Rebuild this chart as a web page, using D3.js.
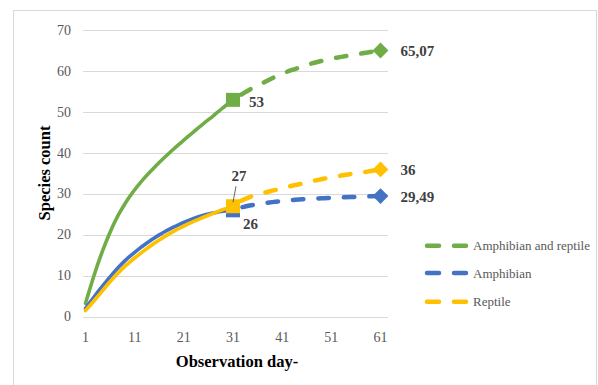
<!DOCTYPE html>
<html>
<head>
<meta charset="utf-8">
<script src="https://cdn.jsdelivr.net/npm/d3@7"></script>
<style>
  html, body { margin: 0; padding: 0; background: #fff; }
  text { font-family: "Liberation Serif", "Times New Roman", Tinos, "DejaVu Serif", serif; }
</style>
</head>
<body>
<svg id="chart" width="598" height="385"></svg>
<script>
// ---- Data ----
const seriesNames = ["Amphibian and reptile", "Amphibian", "Reptile"];
const seriesColors = ["#70AD47", "#4472C4", "#FFC000"];

const observedDays = d3.range(1, 32); // 1..31
const observedBoth = [3.3, 7.3, 11.1, 14.6, 17.8, 20.7, 23.3, 25.6, 27.6, 29.4,
  31.05, 32.55, 33.95, 35.25, 36.5, 37.7, 38.85, 39.95, 41.05, 42.1,
  43.15, 44.2, 45.2, 46.2, 47.2, 48.15, 49.1, 50.1, 51.1, 52.05, 53.0];
const observedAmphibian = [2.0, 3.65, 5.25, 6.8, 8.3, 9.75, 11.15, 12.45, 13.65, 14.75,
  15.75, 16.7, 17.6, 18.45, 19.25, 20.0, 20.7, 21.35, 21.95, 22.52,
  23.06, 23.56, 24.03, 24.46, 24.8, 25.1, 25.35, 25.6, 25.8, 25.93, 26.0];
const observedReptile = [1.5, 2.85, 4.25, 5.7, 7.15, 8.55, 9.9, 11.15, 12.3, 13.35,
  14.35, 15.3, 16.2, 17.1, 17.95, 18.75, 19.52, 20.25, 20.93, 21.57,
  22.17, 22.74, 23.28, 23.8, 24.3, 24.79, 25.27, 25.74, 26.2, 26.6, 27.0];

const extrapDays = [31, 33, 35, 37, 39, 41, 43, 45, 47, 49, 51, 53, 55, 57, 59, 61];
const extrapBoth = [53.0, 54.5, 55.9, 57.1, 58.3, 59.4, 60.3, 61.1, 61.9, 62.5, 63.1, 63.5, 63.9, 64.3, 64.7, 65.07];
const extrapAmphibian = [26.0, 26.8, 27.3, 27.7, 28.0, 28.3, 28.5, 28.7, 28.8, 28.95, 29.05, 29.15, 29.25, 29.35, 29.42, 29.49];
const extrapReptile = [27.0, 28.5, 29.5, 30.2, 30.8, 31.4, 32.0, 32.5, 33.1, 33.6, 34.1, 34.5, 34.9, 35.2, 35.6, 36.0];

const xTicks = [1, 11, 21, 31, 41, 51, 61];
const yTicks = [0, 10, 20, 30, 40, 50, 60, 70];
const endLabels = ["65,07", "29,49", "36"];
const midLabels = ["53", "26", "27"];

const observed = [observedBoth, observedAmphibian, observedReptile];
const extrap = [extrapBoth, extrapAmphibian, extrapReptile];

// ---- Layout ----
const FONT = '"Liberation Serif", "Times New Roman", Tinos, "DejaVu Serif", serif';
const svg = d3.select("#chart");
const x = d3.scaleLinear().domain([1, 61]).range([85.5, 380.5]);
const y = d3.scaleLinear().domain([0, 70]).range([316.7, 30.3]);

// chart border
svg.append("rect").attr("x", 13.5).attr("y", 10.5).attr("width", 583).attr("height", 390)
  .attr("fill", "none").attr("stroke", "#D9D9D9").attr("stroke-width", 1);

// gridlines
const gx0 = x(0.5), gx1 = x(62.5);
svg.append("g").selectAll("line").data(yTicks).join("line")
  .attr("x1", gx0).attr("x2", gx1)
  .attr("y1", d => Math.round(y(d)) + 0.5).attr("y2", d => Math.round(y(d)) + 0.5)
  .attr("stroke", "#D9D9D9").attr("stroke-width", 1);

// y tick labels
svg.append("g").selectAll("text").data(yTicks).join("text")
  .attr("font-family", FONT)
  .attr("x", 71).attr("y", d => y(d)).attr("text-anchor", "end")
  .attr("dominant-baseline", "central")
  .attr("font-size", 14).attr("fill", "#595959").text(d => d);

// x tick labels
svg.append("g").selectAll("text").data(xTicks).join("text")
  .attr("font-family", FONT)
  .attr("x", d => x(d)).attr("y", 337).attr("text-anchor", "middle")
  .attr("dominant-baseline", "central")
  .attr("font-size", 14).attr("fill", "#595959").text(d => d);

// axis titles
svg.append("text").attr("font-family", FONT).attr("x", 237).attr("y", 361).attr("text-anchor", "middle")
  .attr("dominant-baseline", "central").attr("font-size", 16.5).attr("font-weight", "bold")
  .attr("fill", "#000").text("Observation day-");
svg.append("text").attr("font-family", FONT).attr("transform", "translate(44,173) rotate(-90)")
  .attr("text-anchor", "middle").attr("dominant-baseline", "central")
  .attr("font-size", 16.5).attr("font-weight", "bold").attr("fill", "#000").text("Species count");

// lines
const lineObs = d3.line().x(d => x(d[0])).y(d => y(d[1])).curve(d3.curveBasis);
const lineExt = d3.line().x(d => x(d[0])).y(d => y(d[1])).curve(d3.curveMonotoneX);
const dash = "10.5,15";
[0, 1, 2].forEach(i => {
  const obs = observedDays.map((d, k) => [d, observed[i][k]]);
  const ext = extrapDays.map((d, k) => [d, extrap[i][k]]);
  const g = svg.append("g");
  g.append("path").attr("d", lineObs(obs)).attr("fill", "none")
    .attr("stroke", seriesColors[i]).attr("stroke-width", 3.6).attr("stroke-linecap", "round")
    .attr("stroke-linejoin", "round");
  g.append("path").attr("d", lineExt(ext)).attr("fill", "none")
    .attr("stroke", seriesColors[i]).attr("stroke-width", 4.5).attr("stroke-linecap", "round")
    .attr("stroke-dasharray", dash).attr("stroke-dashoffset", -10);
});

// markers
[0, 1, 2].forEach(i => {
  const last = observed[i][observed[i].length - 1];
  svg.append("path").attr("d", d3.symbol(d3.symbolSquare, 196)())
    .attr("transform", `translate(${x(31)},${y(last)})`).attr("fill", seriesColors[i]);
  const end = extrap[i][extrap[i].length - 1];
  svg.append("path").attr("d", d3.symbol(d3.symbolSquare, 125)())
    .attr("transform", `translate(${x(61)},${y(end)}) rotate(45)`).attr("fill", seriesColors[i]);
});

// data labels
const lab = (tx, ty, t, anchor) => svg.append("text").attr("font-family", FONT).attr("x", tx).attr("y", ty)
  .attr("text-anchor", anchor || "start").attr("dominant-baseline", "central")
  .attr("font-size", 15).attr("font-weight", "bold").attr("fill", "#404040").text(t);

[0, 1, 2].forEach(i => {
  const end = extrap[i][extrap[i].length - 1];
  lab(x(61) + 20, y(end) + 1, endLabels[i]);
});
lab(x(31) + 16, y(observedBoth[30]) + 2, midLabels[0]);
lab(x(31) + 10, y(observedAmphibian[30]) + 14, midLabels[1]);
lab(x(31) + 6, y(observedReptile[30]) - 30, midLabels[2], "middle");
svg.append("line").attr("x1", x(31) + 3).attr("y1", y(observedReptile[30]) - 20)
  .attr("x2", x(31)).attr("y2", y(observedReptile[30]) - 4)
  .attr("stroke", "#404040").attr("stroke-width", 0.8);

// legend
const legY = [245.7, 273, 301.7];
[0, 1, 2].forEach(i => {
  svg.append("line").attr("x1", 427).attr("x2", 466).attr("y1", legY[i]).attr("y2", legY[i])
    .attr("stroke", seriesColors[i]).attr("stroke-width", 4.5).attr("stroke-linecap", "round")
    .attr("stroke-dasharray", "12,15");
  svg.append("text").attr("font-family", FONT).attr("x", 473).attr("y", legY[i]).attr("dominant-baseline", "central")
    .attr("font-size", 13).attr("fill", "#595959").text(seriesNames[i]);
});
</script>
</body>
</html>
